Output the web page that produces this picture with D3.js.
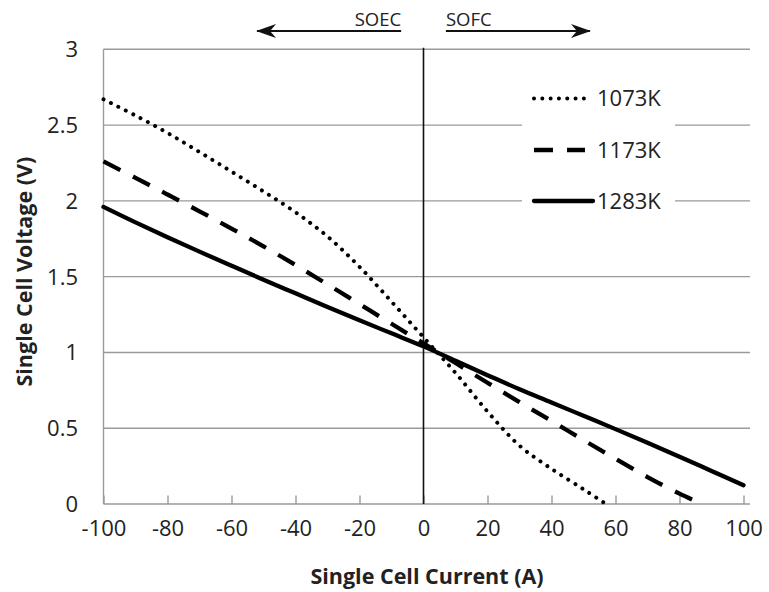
<!DOCTYPE html>
<html>
<head>
<meta charset="utf-8">
<script src="https://cdn.jsdelivr.net/npm/d3@7"></script>
<style>
  html, body { margin: 0; padding: 0; background: #fff; }
  svg { display: block; }
  text { font-family: "Open Sans", "Noto Sans", sans-serif; fill: #222; }
</style>
</head>
<body>
<svg id="chart" width="769" height="592"></svg>
<script>
// Single cell current (A) sampled for each temperature curve
const current1073 = [-100, -90, -80, -70, -60, -50, -40, -30, -20, -10, 0, 10, 20, 30, 40, 50, 57];
const voltage1073 = [2.67, 2.563, 2.448, 2.322, 2.193, 2.062, 1.925, 1.765, 1.565, 1.335, 1.10, 0.865, 0.61, 0.385, 0.232, 0.097, 0.0];

const current1173 = [-100, -90, -80, -70, -60, -50, -40, -30, -20, -10, 0, 10, 20, 30, 40, 50, 60, 70, 80, 87];
const voltage1173 = [2.26, 2.152, 2.042, 1.931, 1.817, 1.70, 1.577, 1.449, 1.319, 1.189, 1.06, 0.93, 0.80, 0.672, 0.548, 0.422, 0.298, 0.178, 0.068, 0.0];

const current1283 = [-100, -90, -80, -70, -60, -50, -40, -30, -20, -10, 0, 10, 20, 30, 40, 50, 60, 70, 80, 90, 100];
const voltage1283 = [1.96, 1.858, 1.760, 1.665, 1.572, 1.480, 1.390, 1.300, 1.212, 1.126, 1.04, 0.945, 0.85, 0.757, 0.67, 0.582, 0.494, 0.404, 0.312, 0.218, 0.124];

const seriesNames = ["1073K", "1173K", "1283K"];
const xTicks = [-100, -80, -60, -40, -20, 0, 20, 40, 60, 80, 100];
const yTicks = [0, 0.5, 1, 1.5, 2, 2.5, 3];
const yTickLabels = ["0", "0.5", "1", "1.5", "2", "2.5", "3"];
const xTitle = "Single Cell Current (A)";
const yTitle = "Single Cell Voltage (V)";
// Operating-mode annotations: label, arrow start current, arrow end current
const modeArrows = [
  { label: "SOEC", from: -7, to: -52 },
  { label: "SOFC", from: 7, to: 52 }
];

const svg = d3.select("#chart");
const x = d3.scaleLinear().domain([-100, 100]).range([103.5, 743.5]);
const y = d3.scaleLinear().domain([0, 3]).range([504, 49.3]);
const gridRight = 750;
const gridColor = "#9a9a9a";

// horizontal gridlines
svg.append("g").selectAll("line").data(yTicks.filter(v => v > 0)).join("line")
  .attr("x1", x(-100)).attr("x2", gridRight)
  .attr("y1", d => y(d)).attr("y2", d => y(d))
  .attr("stroke", gridColor).attr("stroke-width", 1.4);

// y axis line and labels
svg.append("line")
  .attr("x1", x(-100)).attr("x2", x(-100))
  .attr("y1", y(3)).attr("y2", y(0))
  .attr("stroke", gridColor).attr("stroke-width", 1.4);

svg.append("g").selectAll("text").data(yTicks).join("text")
  .attr("x", 78).attr("y", d => y(d)).attr("dy", "0.36em")
  .attr("text-anchor", "end").attr("font-size", 22)
  .text((d, i) => yTickLabels[i]);

// x axis with inward ticks
const xAxis = d3.axisBottom(x).tickValues(xTicks).tickSize(-8.5).tickPadding(16)
  .tickFormat(d3.format("d"));
const gx = svg.append("g").attr("transform", `translate(0,${y(0)})`).call(xAxis);
gx.select(".domain").attr("stroke", gridColor).attr("stroke-width", 1.4)
  .attr("d", `M${x(-100)},0H${gridRight}`);
gx.selectAll(".tick line").attr("stroke", gridColor).attr("stroke-width", 1.4);
gx.selectAll(".tick text")
  .attr("font-size", 22).attr("font-family", "Open Sans, sans-serif")
  .attr("fill", "#222").attr("dy", "0.71em")
  .text(d => d < 0 ? "-" + Math.abs(d) : String(d));

// zero-current divider between the two operating modes
svg.append("line")
  .attr("x1", x(0)).attr("x2", x(0))
  .attr("y1", y(3) - 1.5).attr("y2", y(0))
  .attr("stroke", "#111").attr("stroke-width", 1.6);

// axis titles
svg.append("text")
  .attr("x", 427).attr("y", 584)
  .attr("text-anchor", "middle").attr("font-size", 21.5).attr("font-weight", "bold")
  .text(xTitle);

svg.append("text")
  .attr("transform", `translate(32,${(y(0) + y(3)) / 2 - 5}) rotate(-90)`)
  .attr("text-anchor", "middle").attr("font-size", 21.5).attr("font-weight", "bold")
  .text(yTitle);

// curves
const styles = [
  { dash: "0.01 8.3", width: 4.0, cap: "round" },
  { dash: "19 14", width: 4.3, cap: "butt" },
  { dash: null, width: 4.3, cap: "round" }
];
const seriesData = [
  d3.zip(current1073, voltage1073),
  d3.zip(current1173, voltage1173),
  d3.zip(current1283, voltage1283)
];
const line = d3.line().x(d => x(d[0])).y(d => y(d[1])).curve(d3.curveCatmullRom.alpha(0.5));

svg.append("g").selectAll("path").data(seriesData).join("path")
  .attr("d", line)
  .attr("fill", "none").attr("stroke", "#000")
  .attr("stroke-width", (d, i) => styles[i].width)
  .attr("stroke-linecap", (d, i) => styles[i].cap)
  .attr("stroke-linejoin", "round")
  .attr("stroke-dasharray", (d, i) => styles[i].dash);

// legend
const legend = svg.append("g");
legend.append("rect")
  .attr("x", 522).attr("y", 70).attr("width", 153).attr("height", 156)
  .attr("fill", "#fff");
const legendRowY = [98.5, 150, 201];
const legendSampleEnd = [585, 585, 593];
seriesNames.forEach((name, i) => {
  legend.append("line")
    .attr("x1", 534).attr("x2", legendSampleEnd[i])
    .attr("y1", legendRowY[i]).attr("y2", legendRowY[i])
    .attr("stroke", "#000")
    .attr("stroke-width", styles[i].width)
    .attr("stroke-linecap", styles[i].cap)
    .attr("stroke-dasharray", styles[i].dash);
  legend.append("text")
    .attr("x", 597).attr("y", legendRowY[i]).attr("dy", "0.36em")
    .attr("font-size", 22)
    .text(name);
});

// operating-mode arrows
const defs = svg.append("defs");
defs.append("marker")
  .attr("id", "head").attr("viewBox", "0 0 20 14")
  .attr("refX", 19).attr("refY", 7)
  .attr("markerWidth", 20).attr("markerHeight", 14)
  .attr("markerUnits", "userSpaceOnUse")
  .attr("orient", "auto")
  .append("path").attr("d", "M0,0 L20,7 L0,14 L6,7 Z").attr("fill", "#111");

const arrowY = 31;
modeArrows.forEach(a => {
  svg.append("line")
    .attr("x1", x(a.from)).attr("x2", x(a.to))
    .attr("y1", arrowY).attr("y2", arrowY)
    .attr("stroke", "#111").attr("stroke-width", 2)
    .attr("marker-end", "url(#head)");
  svg.append("text")
    .attr("x", x(a.from)).attr("y", 25.5)
    .attr("text-anchor", a.from < 0 ? "end" : "start")
    .attr("font-size", 18.5)
    .text(a.label);
});
</script>
</body>
</html>
